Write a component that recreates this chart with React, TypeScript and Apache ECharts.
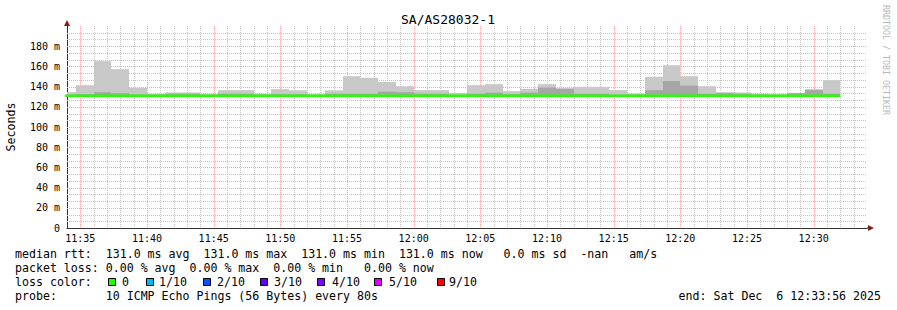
import React, { useEffect, useRef } from "react";
import * as echarts from "echarts";

// ---------------- data ----------------
const chartTitle = "SA/AS28032-1";
const yAxisTitle = "Seconds";
const watermark = "RRDTOOL / TOBI OETIKER";

// step length of the probe (s) and first step start, seconds relative to 11:34:00
const stepSeconds = 80;
const firstStepStart = -40;

// per-step ping values (ms)
const pingMax = [
  134.5, 141.4, 165.2, 157.3, 138.8, 132.5, 134.2, 134.2, 132.5, 136.5,
  136.5, 133.0, 137.5, 136.3, 132.3, 136.3, 150.3, 148.7, 144.6, 140.4,
  136.5, 136.5, 133.8, 141.4, 142.4, 135.5, 137.8, 142.4, 138.8, 139.8,
  139.8, 136.5, 133.2, 149.7, 161.2, 150.3, 140.4, 134.5, 134.2, 133.0,
  132.2, 133.8, 137.5, 146.4,
];
const pingInner = [
  132.0, 132.5, 134.5, 133.5, 132.0, 132.0, 133.0, 133.0, 132.0, 133.0,
  133.0, 132.0, 132.5, 132.5, 132.0, 133.0, 133.0, 133.0, 135.0, 134.5,
  133.0, 133.0, 132.0, 133.0, 134.0, 132.5, 134.0, 139.0, 137.5, 133.0,
  133.0, 132.0, 132.0, 136.5, 145.5, 141.0, 133.0, 133.5, 133.0, 132.0,
  132.0, 133.5, 136.5, 133.0,
];
const pingMin = [
  130.5, 130.5, 130.5, 130.5, 130.5, 130.5, 130.5, 130.5, 130.5, 130.5,
  130.5, 130.5, 130.5, 130.5, 130.5, 130.5, 130.5, 130.5, 130.5, 130.5,
  130.5, 130.5, 130.5, 130.5, 130.5, 130.5, 130.5, 130.5, 130.5, 130.5,
  130.5, 130.5, 130.5, 130.5, 130.5, 130.5, 130.5, 130.5, 130.5, 130.5,
  130.5, 130.5, 130.5, 130.5,
];
const pingMedian = [
  131.0, 131.0, 131.0, 131.0, 131.0, 131.0, 131.0, 131.0, 131.0, 131.0,
  131.0, 131.0, 131.0, 131.0, 131.0, 131.0, 131.0, 131.0, 131.0, 131.0,
  131.0, 131.0, 131.0, 131.0, 131.0, 131.0, 131.0, 131.0, 131.0, 131.0,
  131.0, 131.0, 131.0, 131.0, 131.0, 131.0, 131.0, 131.0, 131.0, 131.0,
  131.0, 131.0, 131.0, 131.0,
];

// x axis: minutes shown 11:34 .. 12:34, labelled every 5 minutes
const axisStartHour = 11;
const axisStartMinute = 34;
const axisMinutes = 60;
const xTickLabels = [
  "11:35", "11:40", "11:45", "11:50", "11:55", "12:00",
  "12:05", "12:10", "12:15", "12:20", "12:25", "12:30",
];
// y axis (ms)
const yMax = 200;
const yMajorStep = 20;
const yMinorPerMajor = 3;

const legendLine1 =
  "median rtt:  131.0 ms avg  131.0 ms max  131.0 ms min  131.0 ms now   0.0 ms sd  -nan   am/s";
const legendLine2 = "packet loss: 0.00 % avg  0.00 % max  0.00 % min   0.00 % now";
const legendLine3 = "loss color:";
const legendLine4 = "probe:       10 ICMP Echo Pings (56 Bytes) every 80s";
const legendEnd = "end: Sat Dec  6 12:33:56 2025";
const lossLabels = ["0", "1/10", "2/10", "3/10", "4/10", "5/10", "9/10"];
const lossColors = ["#26ff00", "#00b8ff", "#0059ff", "#5e00ff", "#7e00ff", "#dd00ff", "#ff0000"];

// ---------------- layout ----------------
const W = 897;
const H = 310;
const FONT = "DejaVu Sans Mono";
const lossBoxX = [108, 146, 203, 260, 317, 374, 437];
const lossTextX = [122, 159, 217, 274, 332, 389, 449];
const GRAY = "#c4c4c4";
const RED = "#ffa0a0";

const nb = (s: string) => s.replace(/ /g, "\u00a0");

const minuteCats: string[] = [];
for (let i = 0; i <= axisMinutes; i++) {
  const total = axisStartHour * 60 + axisStartMinute + i;
  const h = Math.floor(total / 60);
  const m = total % 60;
  minuteCats.push(`${h}:${m < 10 ? "0" : ""}${m}`);
}
// grid rows: [orientation 0=vertical 1=horizontal, value, major 1/0]
const gridRows: number[][] = [];
minuteCats.forEach((c, i) => {
  if (i === 0 || i === axisMinutes) return;
  gridRows.push([0, i * 60, xTickLabels.includes(c) ? 1 : 0]);
});
for (let k = 1; k < (yMax / yMajorStep) * yMinorPerMajor; k++) {
  const v = (k * yMajorStep) / yMinorPerMajor;
  gridRows.push([1, v, k % yMinorPerMajor === 0 ? 1 : 0]);
}

const stepStart = (i: number) => firstStepStart + stepSeconds * i;

const outerData = pingMax.map((v, i) => [stepStart(i), stepStart(i) + stepSeconds, pingMin[i], v]);
const innerData = pingInner.map((v, i) => [stepStart(i), stepStart(i) + stepSeconds, pingMin[i], v]);
const medianData: number[][] = [];
pingMedian.forEach((v, i) => {
  medianData.push([stepStart(i), v]);
  medianData.push([stepStart(i) + stepSeconds, v]);
});

const makeRender = (color: string) => (params: any, api: any) => {
  const a = api.coord([api.value(0), api.value(3)]);
  const b = api.coord([api.value(1), api.value(2)]);
  const cs = params.coordSys;
  const x0 = Math.max(Math.round(a[0]), cs.x);
  const x1 = Math.min(Math.round(b[0]), cs.x + cs.width);
  if (x1 <= x0) return null;
  return {
    type: "rect",
    shape: { x: x0, y: a[1], width: x1 - x0, height: b[1] - a[1] },
    style: { fill: color },
  };
};

const renderGrid = (params: any, api: any) => {
  const cs = params.coordSys;
  const orient = api.value(0);
  const v = api.value(1);
  const stroke = api.value(2) ? RED : GRAY;
  if (orient === 0) {
    const p = api.coord([v, 0]);
    const x = Math.round(p[0]) + 0.5;
    return {
      type: "line",
      shape: { x1: x, y1: cs.y, x2: x, y2: cs.y + cs.height },
      style: { stroke, lineWidth: 1, lineDash: [1, 1] },
    };
  }
  const p = api.coord([0, v]);
  const y = Math.round(p[1]) + 0.5;
  return {
    type: "line",
    shape: { x1: cs.x, y1: y, x2: cs.x + cs.width, y2: y },
    style: { stroke, lineWidth: 1, lineDash: [1, 1] },
  };
};

export default function App() {
  const ref = useRef<HTMLDivElement>(null);

  useEffect(() => {
    if (!ref.current) return;
    const chart = echarts.init(ref.current, null, { renderer: "svg" });

    const legendGraphics: any[] = [
      { type: "text", x: 15, y: 254, style: { text: nb(legendLine1), font: `11.6px '${FONT}'`, fill: "#000", verticalAlign: "middle" } },
      { type: "text", x: 15, y: 268, style: { text: nb(legendLine2), font: `11.6px '${FONT}'`, fill: "#000", verticalAlign: "middle" } },
      { type: "text", x: 15, y: 282, style: { text: nb(legendLine3), font: `11.6px '${FONT}'`, fill: "#000", verticalAlign: "middle" } },
      { type: "text", x: 15, y: 296, style: { text: nb(legendLine4), font: `11.6px '${FONT}'`, fill: "#000", verticalAlign: "middle" } },
      { type: "text", x: 881, y: 296, style: { text: nb(legendEnd), font: `11.6px '${FONT}'`, fill: "#000", verticalAlign: "middle", textAlign: "right" } },
    ];
    lossLabels.forEach((lab, i) => {
      legendGraphics.push({
        type: "rect",
        shape: { x: lossBoxX[i] + 0.5, y: 278.5, width: 7, height: 7 },
        style: { fill: lossColors[i], stroke: "#000", lineWidth: 1 },
      });
      legendGraphics.push({
        type: "text",
        x: lossTextX[i],
        y: 282,
        style: { text: lab, font: `11.6px '${FONT}'`, fill: "#000", verticalAlign: "middle" },
      });
    });

    const option: any = {
      animation: false,
      backgroundColor: "#ffffff",
      grid: { left: 67, right: 30, top: 26, bottom: 82, containLabel: false },
      xAxis: [
        {
          type: "category",
          data: minuteCats,
          boundaryGap: false,
          axisLine: { show: true, lineStyle: { color: "#333", width: 1 } },
          axisTick: { show: false },
          axisLabel: {
            interval: (_i: number, v: string) => xTickLabels.includes(v),
            fontFamily: FONT,
            fontSize: 10,
            color: "#000000",
            margin: 5,
          },
          splitLine: { show: false },
          z: 3,
        },
        { type: "value", min: 0, max: axisMinutes * 60, show: false, splitLine: { show: false } },
      ],
      yAxis: {
        type: "value",
        min: 0,
        max: yMax,
        interval: yMajorStep,
        axisLine: { show: true, lineStyle: { color: "#333", width: 1 } },
        axisTick: { show: false },
        axisLabel: {
          formatter: (v: number) => (v === 0 ? "0" : v >= yMax ? "" : `${v} m`),
          showMaxLabel: false,
          fontFamily: FONT,
          fontSize: 10,
          color: "#000000",
          margin: 7,
        },
        splitLine: { show: false },
        minorSplitLine: { show: false },
      },
      series: [
        {
          type: "custom",
          name: "grid",
          xAxisIndex: 1,
          yAxisIndex: 0,
          data: gridRows,
          renderItem: renderGrid,
          silent: true,
          z: 1,
        },
        {
          type: "custom",
          name: "smoke-outer",
          xAxisIndex: 1,
          yAxisIndex: 0,
          data: outerData,
          encode: { x: [0, 1], y: [2, 3] },
          renderItem: makeRender("#c8c8c8"),
          z: 2,
        },
        {
          type: "custom",
          name: "smoke-inner",
          xAxisIndex: 1,
          yAxisIndex: 0,
          data: innerData,
          encode: { x: [0, 1], y: [2, 3] },
          renderItem: makeRender("#a6a6a6"),
          z: 3,
        },
        {
          type: "line",
          name: "median",
          xAxisIndex: 1,
          yAxisIndex: 0,
          data: medianData,
          symbol: "none",
          clip: true,
          lineStyle: { color: "#22ff00", width: 2.6 },
          z: 4,
        },
      ],
      graphic: [
        { type: "text", x: 448, y: 19, style: { text: chartTitle, font: `13px '${FONT}'`, fill: "#000", textAlign: "center", verticalAlign: "middle" } },
        { type: "text", x: 11, y: 127, rotation: Math.PI / 2, style: { text: yAxisTitle, font: `11.6px '${FONT}'`, fill: "#000", textAlign: "center", verticalAlign: "middle" } },
        { type: "text", x: 886, y: 60, rotation: -Math.PI / 2, style: { text: nb(watermark), font: `8.3px '${FONT}'`, fill: "#b8b8b8", textAlign: "center", verticalAlign: "middle" } },
        { type: "polygon", shape: { points: [[67, 20], [64, 26], [70, 26]] }, style: { fill: "#8b1c1c" }, z: 10 },
        { type: "polygon", shape: { points: [[874, 228], [868, 225], [868, 231]] }, style: { fill: "#8b1c1c" }, z: 10 },
        { type: "line", shape: { x1: 867, y1: 228, x2: 869, y2: 228 }, style: { stroke: "#333", lineWidth: 1 }, z: 10 },
        ...legendGraphics,
      ],
    };

    chart.setOption(option);
    return () => chart.dispose();
  }, []);

  return (
    <div
      ref={ref}
      style={{ position: "fixed", left: 0, top: 0, width: W, height: H, background: "#fff" }}
    />
  );
}
